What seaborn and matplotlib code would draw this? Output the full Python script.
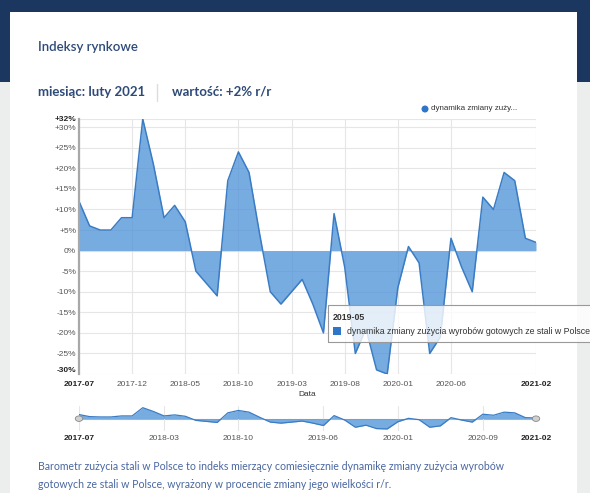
import numpy as np
import pandas as pd
import matplotlib
matplotlib.use("Agg")
import matplotlib.pyplot as plt
import seaborn as sns
from matplotlib.patches import Rectangle, Ellipse

# -----------------------------------------------------------------------------
# Data: monthly y/y change of steel products consumption (%)
# -----------------------------------------------------------------------------
months = [
    "2017-07", "2017-08", "2017-09", "2017-10", "2017-11", "2017-12",
    "2018-01", "2018-02", "2018-03", "2018-04", "2018-05", "2018-06",
    "2018-07", "2018-08", "2018-09", "2018-10", "2018-11", "2018-12",
    "2019-01", "2019-02", "2019-03", "2019-04", "2019-05", "2019-06",
    "2019-07", "2019-08", "2019-09", "2019-10", "2019-11", "2019-12",
    "2020-01", "2020-02", "2020-03", "2020-04", "2020-05", "2020-06",
    "2020-07", "2020-08", "2020-09", "2020-10", "2020-11", "2020-12",
    "2021-01", "2021-02",
]
values = [
    12, 6, 5, 5, 8, 8,
    32, 21, 8, 11, 7, -5,
    -8, -11, 17, 24, 19, 4,
    -10, -13, -10, -7, -13, -20,
    9, -4, -25, -19, -29, -30,
    -9, 1, -3, -25, -21, 3,
    -4, -10, 13, 10, 19, 17,
    3, 2,
]
main_ticks = ["2017-07", "2017-12", "2018-05", "2018-10", "2019-03",
              "2019-08", "2020-01", "2020-06", "2021-02"]
nav_ticks = ["2017-07", "2018-03", "2018-10", "2019-06", "2020-01",
             "2020-09", "2021-02"]
y_ticks = [-30, -25, -20, -15, -10, -5, 0, 5, 10, 15, 20, 25, 30, 32]

series_name = "dynamika zmiany zużycia wyrobów gotowych ze stali w Polsce"

df = pd.DataFrame({"miesiac": months, "wartosc": values})
df["pos"] = np.arange(len(df))

# -----------------------------------------------------------------------------
# Style
# -----------------------------------------------------------------------------
sns.set_style("white")
plt.rcParams["font.family"] = ["Liberation Sans", "DejaVu Sans"]

W, H = 590, 493
LINE = "#3a7cc4"
FILL = "#4a90d8"
NAVY = "#1b365f"
TITLE = "#2e4a78"


def fx(x):
    return x / W


def fy(y):
    return 1 - y / H


fig = plt.figure(figsize=(W / 100, H / 100), dpi=100)
fig.patch.set_facecolor("#eceeee")

# page background: navy band and white card
fig.add_artist(Rectangle((0, fy(82)), 1, 82 / H, transform=fig.transFigure,
                         facecolor=NAVY, edgecolor="none", zorder=-10))
fig.add_artist(Rectangle((fx(10), 0), 567 / W, fy(12), transform=fig.transFigure,
                         facecolor="white", edgecolor="none", zorder=-9))

page_font = ["Lato", "DejaVu Sans"]
fig.text(fx(38), fy(47), "Indeksy rynkowe", fontsize=9.5, color=TITLE,
         family=page_font, va="center", fontweight="semibold")
fig.text(fx(38), fy(92), "miesiąc: luty 2021", fontsize=9.5, color=TITLE,
         family=page_font, va="center", fontweight="bold")
fig.add_artist(plt.Line2D([fx(157), fx(157)], [fy(84), fy(101)],
                          transform=fig.transFigure, color="#dddddd", lw=1))
fig.text(fx(172), fy(92), "wartość: +2% r/r", fontsize=9.5, color=TITLE,
         family=page_font, va="center", fontweight="bold")

# -----------------------------------------------------------------------------
# Main chart
# -----------------------------------------------------------------------------
ax = fig.add_axes([fx(79), fy(374), 457 / W, 255 / H])
ax.set_facecolor("none")
ax.fill_between(df["pos"], df["wartosc"], 0, color=FILL, alpha=0.75,
                linewidth=0, interpolate=True)
sns.lineplot(data=df, x="pos", y="wartosc", ax=ax, color=LINE, linewidth=1.1)

ax.set_xlim(0, len(df) - 1)
ax.set_ylim(-30, 32)
ax.set_yticks(y_ticks)
ax.set_yticklabels([("+%d%%" % v) if v > 0 else ("%d%%" % v) for v in y_ticks])
xt = [months.index(m) for m in main_ticks]
ax.set_xticks(xt)
ax.set_xticklabels(main_ticks)
ax.tick_params(axis="both", length=0, labelsize=6, colors="#555555", pad=2)
ax.tick_params(axis="x", pad=5)
for lab in ax.get_yticklabels():
    if lab.get_text() in ("+32%", "-30%"):
        lab.set_fontweight("bold")
        lab.set_color("#222222")
    if lab.get_text() == "-30%":
        lab.set_va("bottom")
for lab in ax.get_xticklabels():
    if lab.get_text() in ("2017-07", "2021-02"):
        lab.set_fontweight("bold")
        lab.set_color("#222222")
ax.grid(True, color="#e6e6e6", linewidth=0.8)
ax.set_axisbelow(True)
for s in ("top", "right", "bottom"):
    ax.spines[s].set_visible(False)
ax.spines["left"].set_color("#a8a8a8")
ax.spines["left"].set_linewidth(1.6)
ax.set_xlabel("Data", fontsize=6, color="#333333", labelpad=2)
ax.set_ylabel("")

# legend
fig.add_artist(Ellipse((fx(425), fy(109)), 7 / W, 7 / H, transform=fig.transFigure,
                       facecolor="#2f75c8", edgecolor="none"))
fig.text(fx(431), fy(109), "dynamika zmiany zuży...", fontsize=5.8,
         color="#333333", va="center")

# tooltip for 2019-05
fig.add_artist(Rectangle((fx(328), fy(342)), 280 / W, 37 / H,
                         transform=fig.transFigure, facecolor="white", alpha=0.8,
                         edgecolor="none", zorder=5))
fig.add_artist(Rectangle((fx(328), fy(342)), 280 / W, 37 / H,
                         transform=fig.transFigure, facecolor="none",
                         edgecolor="#999999", lw=0.8, zorder=6))
fig.text(fx(333), fy(318), months[22], fontsize=6.3, fontweight="bold",
         color="#333333", va="center", zorder=7)
fig.add_artist(Rectangle((fx(333), fy(335)), 8 / W, 8 / H,
                         transform=fig.transFigure, facecolor="#2f75c8",
                         edgecolor="none", zorder=7))
fig.text(fx(347), fy(331), series_name, fontsize=6.3, color="#333333",
         va="center", zorder=7)

# -----------------------------------------------------------------------------
# Navigator
# -----------------------------------------------------------------------------
nav = fig.add_axes([fx(79), fy(431), 457 / W, 25 / H])
nav.set_facecolor("none")
nav.fill_between(df["pos"], df["wartosc"], 0, color=FILL, alpha=0.75,
                 linewidth=0, interpolate=True)
sns.lineplot(data=df, x="pos", y="wartosc", ax=nav, color=LINE, linewidth=0.9)
nav.axhline(0, color="#bbbbbb", lw=0.8, zorder=0)
nav.set_xlim(0, len(df) - 1)
nav.set_ylim(-36, 37)
nx = [months.index(m) for m in nav_ticks]
nav.set_xticks(nx)
nav.set_xticklabels(nav_ticks)
nav.set_yticks([])
nav.tick_params(axis="x", length=0, labelsize=6, colors="#555555", pad=3)
for lab in nav.get_xticklabels():
    if lab.get_text() in ("2017-07", "2021-02"):
        lab.set_fontweight("bold")
        lab.set_color("#222222")
nav.grid(True, axis="x", color="#e6e6e6", linewidth=0.8)
nav.set_axisbelow(True)
for s in nav.spines.values():
    s.set_visible(False)
nav.set_xlabel("")
nav.set_ylabel("")
for hx in (0, len(df) - 1):
    nav.add_patch(Ellipse((hx, 0), 0.7, 16, facecolor="#d0d0d0",
                          edgecolor="#888888", lw=0.6, zorder=5, clip_on=False))

# -----------------------------------------------------------------------------
# Description
# -----------------------------------------------------------------------------
desc = "#4a67a0"
fig.text(fx(38), fy(467), "Barometr zużycia stali w Polsce to indeks mierzący "
         "comiesięcznie dynamikę zmiany zużycia wyrobów", fontsize=7.6,
         color=desc, family=page_font, va="center")
fig.text(fx(38), fy(484), "gotowych ze stali w Polsce, wyrażony w procencie "
         "zmiany jego wielkości r/r.", fontsize=7.6, color=desc,
         family=page_font, va="center")

fig.savefig("out.png", dpi=100)
